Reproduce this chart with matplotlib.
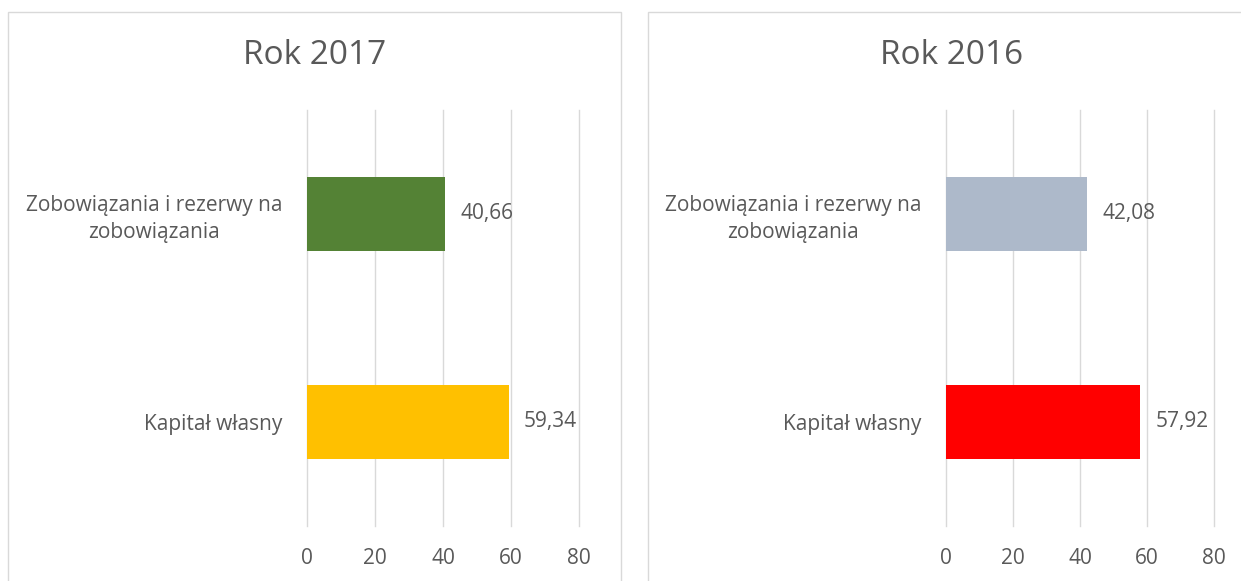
"""Balance-sheet structure: two horizontal bar panels, one per year."""

import matplotlib

matplotlib.use("Agg")

import matplotlib.pyplot as plt
from matplotlib.patches import Rectangle

# ── Data ────────────────────────────────────────────────────────────
categories = ["Zobowiązania i rezerwy na\nzobowiązania", "Kapitał własny"]
titles = ["Rok 2017", "Rok 2016"]
values_2017 = [40.66, 59.34]
values_2016 = [42.08, 57.92]
x_ticks = [0, 20, 40, 60, 80]

# ── Style ───────────────────────────────────────────────────────────
COLORS_2017 = ["#548235", "#FFC000"]
COLORS_2016 = ["#ADB9CA", "#FF0000"]
TEXT = "#595959"
GRID = "#D9D9D9"
FONT = ["Open Sans", "DejaVu Sans"]
SIZE = 15

W, H = 1241, 581
plt.rcParams["font.family"] = FONT


def px(x0, y0, x1, y1):
    """Pixel box (top-left origin) -> figure-fraction rect."""
    return [x0 / W, 1 - y1 / H, (x1 - x0) / W, (y1 - y0) / H]


def draw_panel(fig, rect, values, colors, title, frame, title_x):
    ax = fig.add_axes(rect)
    pos = list(range(len(categories)))
    bars = ax.barh(pos, values, height=0.355, color=colors, zorder=3)
    ax.bar_label(
        bars,
        labels=[f"{v:.2f}".replace(".", ",") for v in values],
        padding=11,
        fontsize=SIZE,
        color=TEXT,
    )
    ax.set_xlim(0, 80)
    ax.set_ylim(-0.5, len(categories) - 0.5)
    ax.invert_yaxis()
    ax.set_xticks(x_ticks)
    ax.set_yticks(pos)
    ax.set_yticklabels(categories)
    for lbl in ax.get_yticklabels():
        lbl.set_multialignment("center")
        lbl.set_linespacing(1.35)
    ax.tick_params(axis="y", length=0, pad=18, labelsize=SIZE, labelcolor=TEXT)
    ax.tick_params(axis="x", length=0, pad=16, labelsize=SIZE, labelcolor=TEXT)
    ax.grid(axis="x", color=GRID, linewidth=1.0, zorder=0)
    # keep the gridlines at 0 and 80 whole at the axes edges
    for gl in ax.get_xgridlines():
        gl.set_clip_on(False)
    for spine in ax.spines.values():
        spine.set_visible(False)

    # light frame around each chart, open at the bottom edge of the image
    fig.add_artist(
        Rectangle(
            (frame[0] / W, -0.1),
            (frame[1] - frame[0]) / W,
            1.1 - 12 / H,
            transform=fig.transFigure,
            fill=False,
            edgecolor=GRID,
            linewidth=1.0,
        )
    )
    fig.text(title_x / W, 1 - 56 / H, title, ha="center", va="center",
             fontsize=24, color=TEXT)
    return ax


fig = plt.figure(figsize=(W / 100, H / 100), dpi=100)
fig.patch.set_facecolor("white")

draw_panel(fig, px(307, 110, 579, 526), values_2017, COLORS_2017, titles[0],
           (8, 621), 315)
draw_panel(fig, px(946, 110, 1214, 526), values_2016, COLORS_2016, titles[1],
           (648, 1256), 952)

fig.savefig("out.png", dpi=100)
